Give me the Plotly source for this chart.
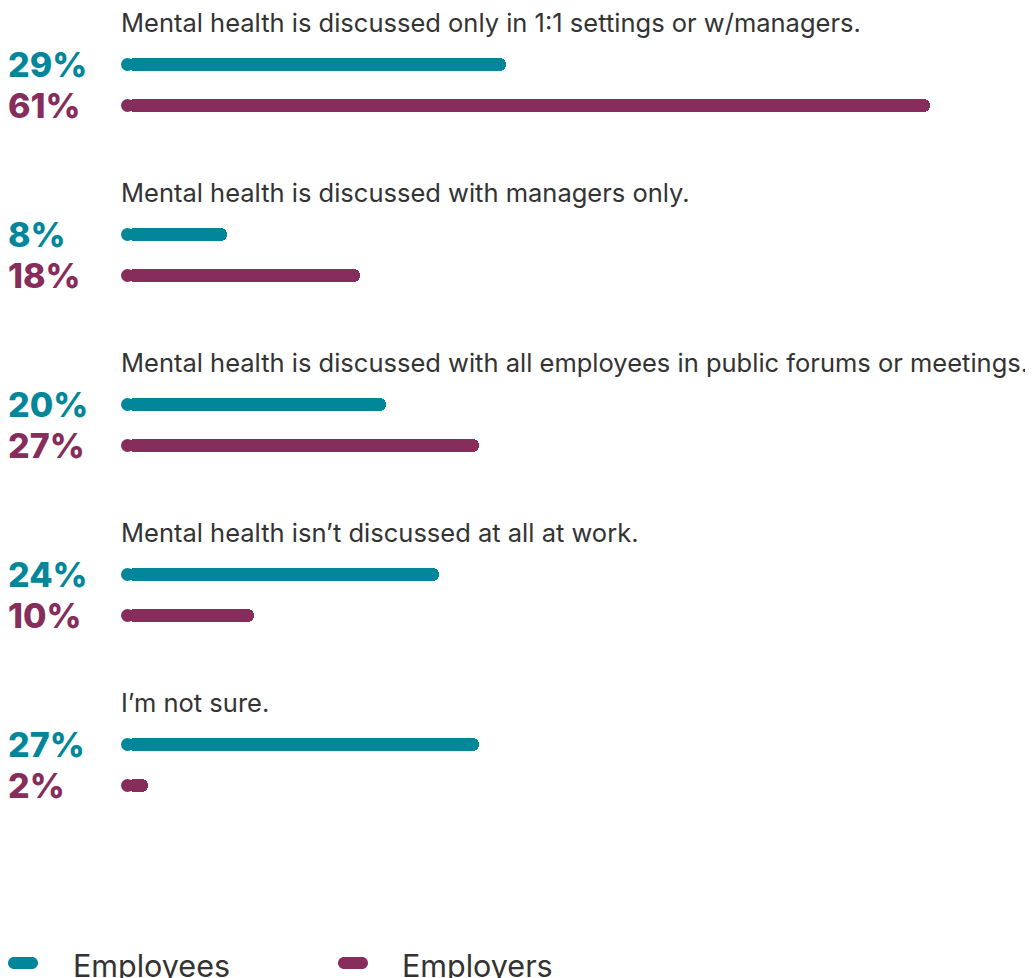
import plotly.graph_objects as go

categories = [
    "Mental health is discussed only in 1:1 settings or w/managers.",
    "Mental health is discussed with managers only.",
    "Mental health is discussed with all employees in public forums or meetings.",
    "Mental health isn\u2019t discussed at all at work.",
    "I\u2019m not sure.",
]
employees = [29, 8, 20, 24, 27]
employers = [61, 18, 27, 10, 2]
series_names = ["Employees", "Employers"]

TEAL = "#02879A"
MAROON = "#862D5C"
TEXT = "#333333"
FONT = "Inter"

OFF = 8  # page body margin
W, H = 1033 - OFF, 978 - OFF
LEFT = 121 - OFF
SCALE = 13.26  # px per percent
GROUP = 170
LABEL_Y0, TEAL_Y0, MAROON_Y0 = 22 - OFF, 64.5 - OFF, 105.5 - OFF
BAR_T = 13
R_DATA = (BAR_T / 2) / SCALE  # cap radius in data units

n = len(categories)
y_label = [LABEL_Y0 + GROUP * i for i in range(n)]
y_emp = [TEAL_Y0 + GROUP * i for i in range(n)]
y_er = [MAROON_Y0 + GROUP * i for i in range(n)]

fig = go.Figure()


def pill_bars(vals, ys, color, name):
    # bar rounded at its far end, plus a round cap at its start
    fig.add_trace(go.Bar(x=[v - R_DATA for v in vals], y=ys, base=R_DATA, orientation="h",
                         width=BAR_T, showlegend=False, hoverinfo="skip", name=name,
                         marker=dict(color=color, cornerradius="50%", line=dict(width=0))))
    fig.add_trace(go.Scatter(x=[R_DATA] * len(vals), y=ys, mode="markers", showlegend=False,
                             hoverinfo="skip", name=name,
                             marker=dict(color=color, size=BAR_T, line=dict(width=0))))


pill_bars(employees, y_emp, TEAL, series_names[0])
pill_bars(employers, y_er, MAROON, series_names[1])

annotations = []
for i in range(n):
    annotations.append(dict(x=0, xref="paper", y=y_label[i], yref="y", text=categories[i],
                            xanchor="left", yanchor="middle", showarrow=False, xshift=-2,
                            font=dict(family=FONT, size=25.5, color=TEXT)))
    annotations.append(dict(x=0, xref="paper", y=y_emp[i], yref="y", text=f"{employees[i]}%",
                            xanchor="left", yanchor="middle", showarrow=False, xshift=-LEFT - 2,
                            font=dict(family=FONT, size=34, color=TEAL, weight=800)))
    annotations.append(dict(x=0, xref="paper", y=y_er[i], yref="y", text=f"{employers[i]}%",
                            xanchor="left", yanchor="middle", showarrow=False, xshift=-LEFT - 2,
                            font=dict(family=FONT, size=34, color=MAROON, weight=800)))


def pill_path(x0, w, h):
    r = h / 2
    k = 0.5523 * r
    a, b = x0 + r, x0 + w - r
    return (f"M {a},{-r} L {b},{-r} C {b+k},{-r} {b+r},{-k} {b+r},0 "
            f"C {b+r},{k} {b+k},{r} {b},{r} L {a},{r} "
            f"C {a-k},{r} {a-r},{k} {a-r},0 C {a-r},{-k} {a-k},{-r} {a},{-r} Z")


LEG_Y = 963 - OFF
shapes = []
legend_items = [(series_names[0], TEAL, 8 - OFF, 73 - OFF), (series_names[1], MAROON, 338 - OFF, 402 - OFF)]
for name, col, px, tx in legend_items:
    shapes.append(dict(type="path", xref="paper", yref="y", xsizemode="pixel", ysizemode="pixel",
                       xanchor=0, yanchor=LEG_Y, path=pill_path(px - LEFT, 30, 12),
                       fillcolor=col, line=dict(width=0)))
    annotations.append(dict(x=0, xref="paper", y=LEG_Y, yref="y", text=name,
                            xanchor="left", yanchor="middle", showarrow=False, xshift=tx - LEFT - 2,
                            yshift=-2,
                            font=dict(family=FONT, size=30.5, color=TEXT)))

fig.update_layout(
    width=W, height=H,
    margin=dict(l=LEFT, r=0, t=0, b=0),
    paper_bgcolor="white", plot_bgcolor="rgba(0,0,0,0)",
    xaxis=dict(range=[0, (W - LEFT) / SCALE], visible=False, fixedrange=True),
    yaxis=dict(range=[H, 0], visible=False, fixedrange=True),
    annotations=annotations, shapes=shapes,
    barmode="overlay", bargap=0, showlegend=False,
)

fig.write_html("out.html", config={"displayModeBar": False})
